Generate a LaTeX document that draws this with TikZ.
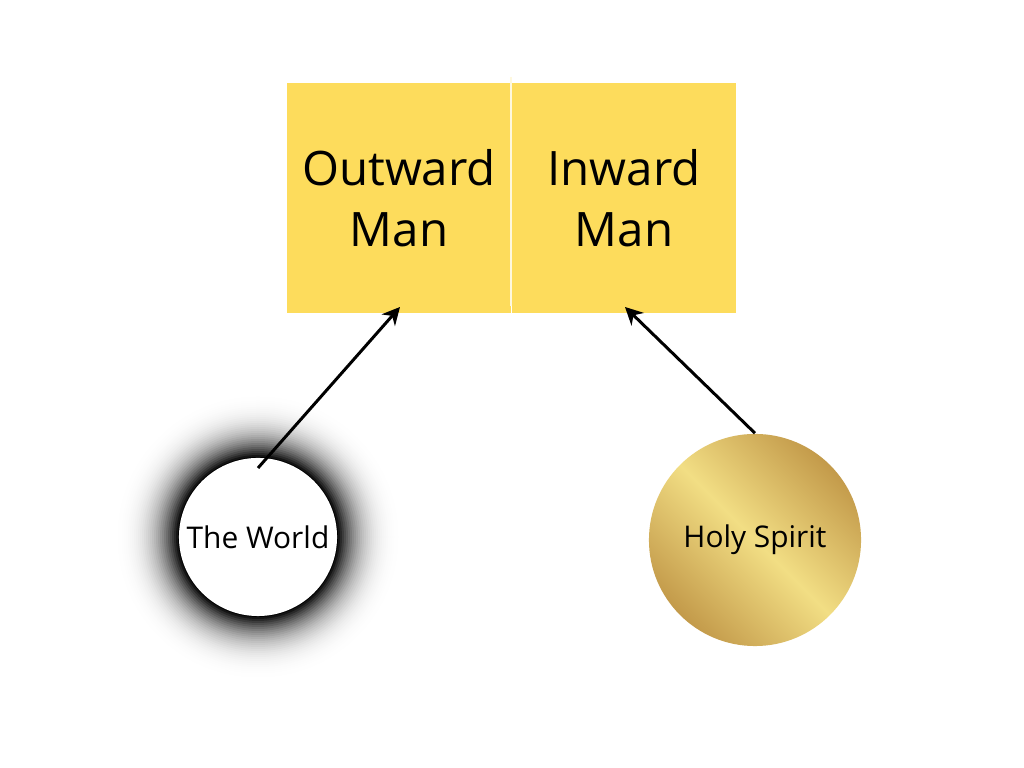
\documentclass[tikz,border=0pt]{standalone}
\usepackage{fontspec}
\setmainfont{Open Sans}
\usetikzlibrary{arrows.meta}
\definecolor{boxyellow}{HTML}{FDDC5C}
\definecolor{golddark}{HTML}{C39A4A}
\definecolor{goldlight}{HTML}{F2DE84}

\begin{document}
\begin{tikzpicture}[x=0.01cm,y=-0.01cm,
    manbox/.style={fill=boxyellow, draw=none, minimum width=2.24cm, minimum height=2.29cm, inner sep=0pt, align=center, font=\fontsize{13.5}{17.5}\selectfont},
    link/.style={-{Stealth[length=5pt,width=5pt]}, line width=0.85pt}]
    \useasboundingbox (0,0) rectangle (1024,768);
    % the two boxes
    \node[manbox] (outward) at (399,198) {Outward\\Man};
    \node[manbox] (inward) at (624,198) {Inward\\Man};
    \draw[white!80!boxyellow, line width=0.3pt] (511,77) -- (511,306);

    % the world with its dark glow
    \foreach \r in {150,148,...,80}{
        \pgfmathsetmacro{\dark}{100*((150-\r)/70)^3}
        \fill[black!\dark] (258,537) circle[radius=\r];
    }
    \node[circle, fill=white, minimum size=1.58cm, inner sep=0pt, font=\fontsize{8.5}{10}\selectfont] (world) at (258,537) {The World};

    % the spirit
    \node[circle, minimum size=2.12cm, inner sep=0pt, left color=golddark, right color=golddark, middle color=goldlight, shading angle=135, font=\fontsize{8.5}{10}\selectfont] (spirit) at (755,540) {Holy Spirit};

    \coordinate (worldtop) at (258,468);
    \coordinate (outwardin) at (400,307);
    \coordinate (inwardin) at (625,307);
    \draw[link] (worldtop) -- (outwardin);
    \draw[link] (spirit.north) -- (inwardin);
\end{tikzpicture}
\end{document}
